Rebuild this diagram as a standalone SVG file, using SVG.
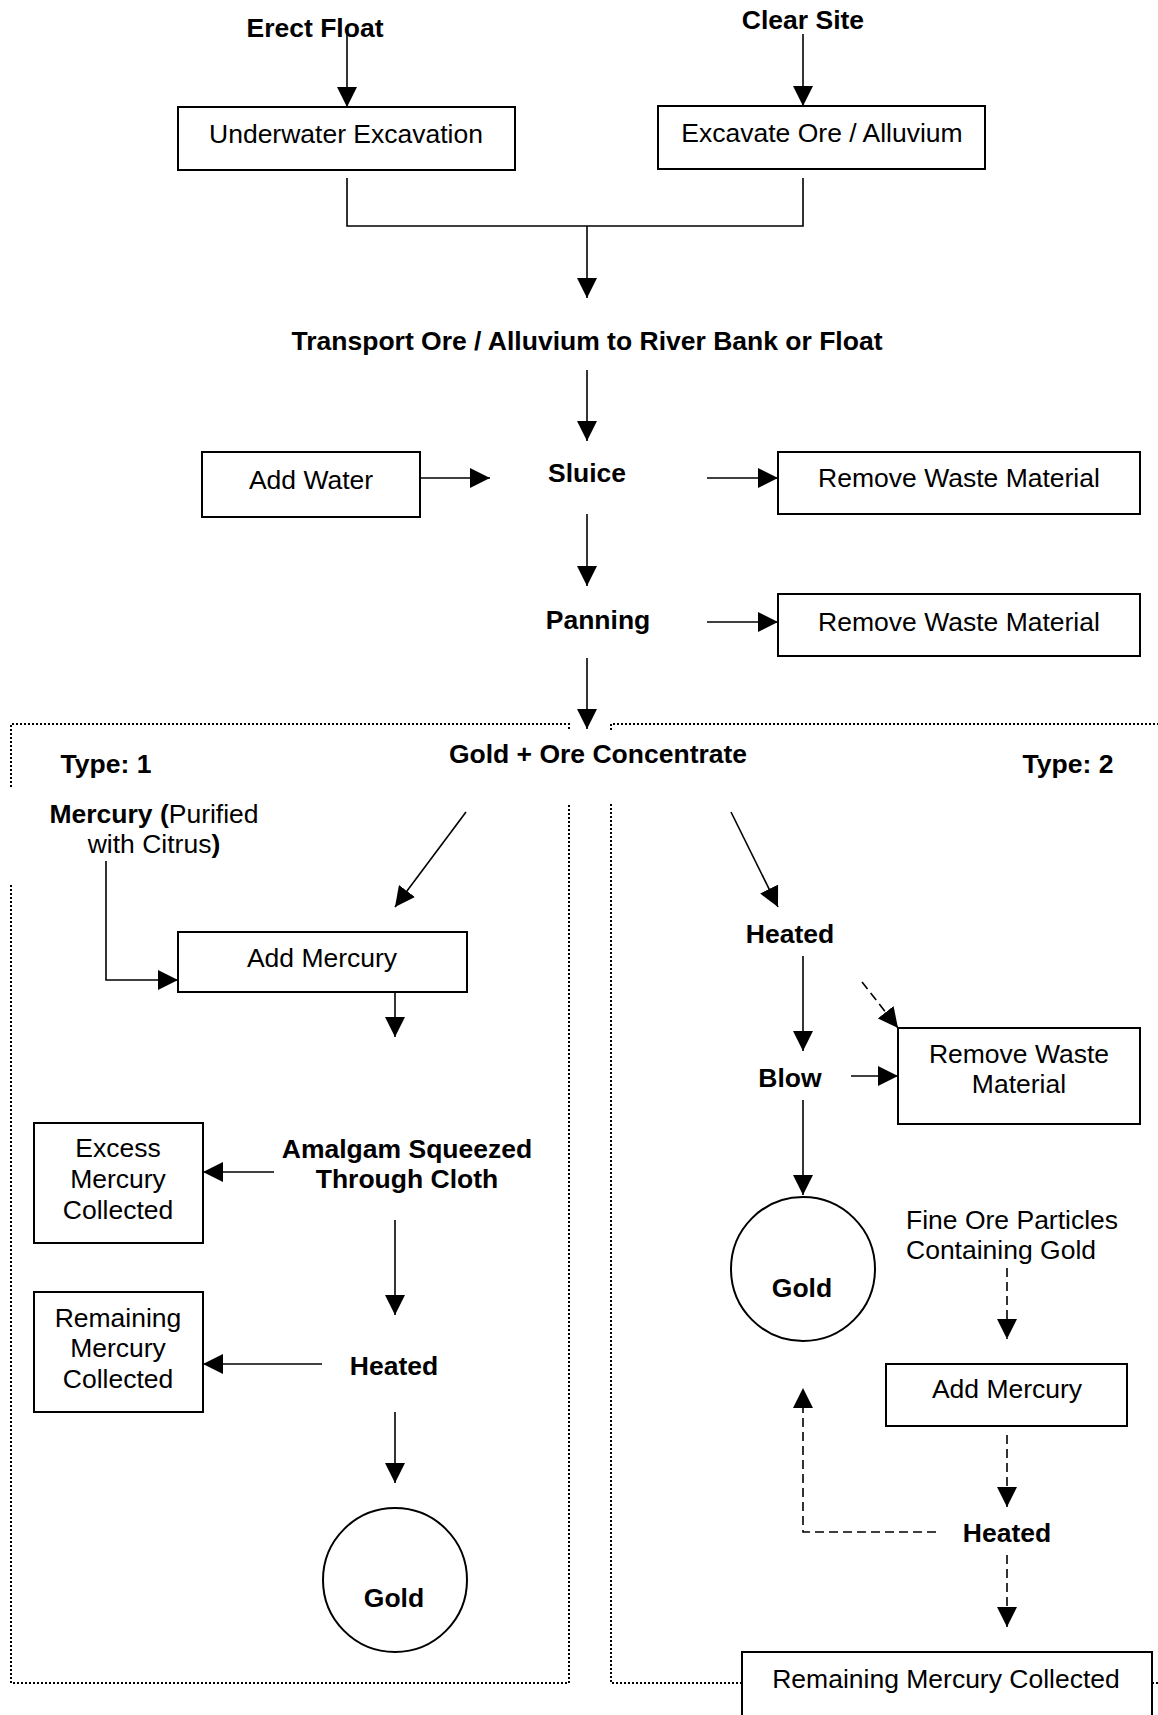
<svg xmlns="http://www.w3.org/2000/svg" width="1158" height="1715" viewBox="0 0 1158 1715">
<style>
  text { font-family: "Liberation Sans", Arial, sans-serif; font-size: 26.5px; fill: #000; text-anchor: middle; }
  .b { font-weight: bold; }
  .box { fill: #fff; stroke: #000; stroke-width: 2; }
  .circ { fill: #fff; stroke: #000; stroke-width: 2; }
  .ln { fill: none; stroke: #000; stroke-width: 1.6; }
  .arr { fill: none; stroke: #000; stroke-width: 1.6; marker-end: url(#ah); }
  .dash { fill: none; stroke: #000; stroke-width: 1.6; stroke-dasharray: 9 5; marker-end: url(#ah); }
  .dot { fill: none; stroke: #000; stroke-width: 2; stroke-dasharray: 2 2; }
</style>
<defs>
  <marker id="ah" markerUnits="userSpaceOnUse" markerWidth="20" markerHeight="20" refX="20" refY="10" orient="auto">
    <path d="M0,0 L20,10 L0,20 z" fill="#000"/>
  </marker>
</defs>
<rect width="1158" height="1715" fill="#fff"/>

<g id="boundaries">
  <path class="dot" d="M11 787 V724 H569 V730"/>
  <path class="dot" d="M11 885 V1683 H569 V804"/>
  <path class="dot" d="M611 730 V724 H1158"/>
  <path class="dot" d="M611 804 V1683 H742"/>
  <path class="dot" d="M1152 1683 H1158"/>
</g>

<g id="connectors">
  <path class="arr" d="M347 30 V107"/>
  <path class="arr" d="M803 34 V106"/>
  <path class="ln" d="M347 178 V226 H803 V178"/>
  <path class="arr" d="M587 226 V298"/>
  <path class="arr" d="M587 370 V441"/>
  <path class="arr" d="M420 478 H490"/>
  <path class="arr" d="M707 478 H778"/>
  <path class="arr" d="M587 514 V586"/>
  <path class="arr" d="M707 622 H778"/>
  <path class="arr" d="M587 658 V729"/>
  <path class="arr" d="M466 812 L395 907"/>
  <path class="arr" d="M106 861 V980 H178"/>
  <path class="arr" d="M395 992 V1037"/>
  <path class="arr" d="M274 1172 H203"/>
  <path class="arr" d="M395 1220 V1315"/>
  <path class="arr" d="M322 1364 H203"/>
  <path class="arr" d="M395 1412 V1483"/>
  <path class="arr" d="M731 812 L778 907"/>
  <path class="arr" d="M803 956 V1051"/>
  <path class="dash" d="M862 982 L898 1028"/>
  <path class="arr" d="M851 1076 H898"/>
  <path class="arr" d="M803 1100 V1195"/>
  <path class="dash" d="M1007 1268 V1339"/>
  <path class="dash" d="M1007 1435 V1507"/>
  <path class="dash" d="M936 1532 H803 V1388"/>
  <path class="dash" d="M1007 1555 V1627"/>
</g>

<g id="erect-float"><text class="b" x="315" y="37">Erect Float</text></g>
<g id="clear-site"><text class="b" x="803" y="29">Clear Site</text></g>
<g id="underwater-excavation">
  <rect class="box" x="178" y="107" width="337" height="63"/>
  <text x="346" y="143">Underwater Excavation</text>
</g>
<g id="excavate-ore">
  <rect class="box" x="658" y="106" width="327" height="63"/>
  <text x="822" y="142">Excavate Ore / Alluvium</text>
</g>
<g id="transport"><text class="b" x="587" y="350">Transport Ore / Alluvium to River Bank or Float</text></g>
<g id="add-water">
  <rect class="box" x="202" y="452" width="218" height="65"/>
  <text x="311" y="489">Add Water</text>
</g>
<g id="sluice"><text class="b" x="587" y="482">Sluice</text></g>
<g id="remove-waste-1">
  <rect class="box" x="778" y="452" width="362" height="62"/>
  <text x="959" y="487">Remove Waste Material</text>
</g>
<g id="panning"><text class="b" x="598" y="629">Panning</text></g>
<g id="remove-waste-2">
  <rect class="box" x="778" y="594" width="362" height="62"/>
  <text x="959" y="631">Remove Waste Material</text>
</g>
<g id="gold-ore-concentrate"><text class="b" x="598" y="763">Gold + Ore Concentrate</text></g>
<g id="type-1"><text class="b" x="106" y="773">Type: 1</text></g>
<g id="type-2"><text class="b" x="1068" y="773">Type: 2</text></g>
<g id="mercury-purified">
  <text x="154" y="823"><tspan class="b">Mercury (</tspan>Purified</text>
  <text x="154" y="853">with Citrus<tspan class="b">)</tspan></text>
</g>
<g id="add-mercury-1">
  <rect class="box" x="178" y="932" width="289" height="60"/>
  <text x="322" y="967">Add Mercury</text>
</g>
<g id="excess-mercury">
  <rect class="box" x="34" y="1123" width="169" height="120"/>
  <text x="118" y="1157">Excess</text>
  <text x="118" y="1188">Mercury</text>
  <text x="118" y="1219">Collected</text>
</g>
<g id="amalgam">
  <text class="b" x="407" y="1158">Amalgam Squeezed</text>
  <text class="b" x="407" y="1188">Through Cloth</text>
</g>
<g id="remaining-mercury-1">
  <rect class="box" x="34" y="1292" width="169" height="120"/>
  <text x="118" y="1327">Remaining</text>
  <text x="118" y="1357">Mercury</text>
  <text x="118" y="1388">Collected</text>
</g>
<g id="heated-1"><text class="b" x="394" y="1375">Heated</text></g>
<g id="gold-1">
  <circle class="circ" cx="395" cy="1580" r="72"/>
  <text class="b" x="394" y="1607">Gold</text>
</g>
<g id="heated-2"><text class="b" x="790" y="943">Heated</text></g>
<g id="blow"><text class="b" x="790" y="1087">Blow</text></g>
<g id="remove-waste-3">
  <rect class="box" x="898" y="1028" width="242" height="96"/>
  <text x="1019" y="1063">Remove Waste</text>
  <text x="1019" y="1093">Material</text>
</g>
<g id="gold-2">
  <circle class="circ" cx="803" cy="1269" r="72"/>
  <text class="b" x="802" y="1297">Gold</text>
</g>
<g id="fine-ore">
  <text x="906" y="1229" style="text-anchor:start">Fine Ore Particles</text>
  <text x="906" y="1259" style="text-anchor:start">Containing Gold</text>
</g>
<g id="add-mercury-2">
  <rect class="box" x="886" y="1364" width="241" height="62"/>
  <text x="1007" y="1398">Add Mercury</text>
</g>
<g id="heated-3"><text class="b" x="1007" y="1542">Heated</text></g>
<g id="remaining-mercury-2">
  <rect class="box" x="742" y="1652" width="410" height="80"/>
  <text x="946" y="1688">Remaining Mercury Collected</text>
</g>
</svg>
